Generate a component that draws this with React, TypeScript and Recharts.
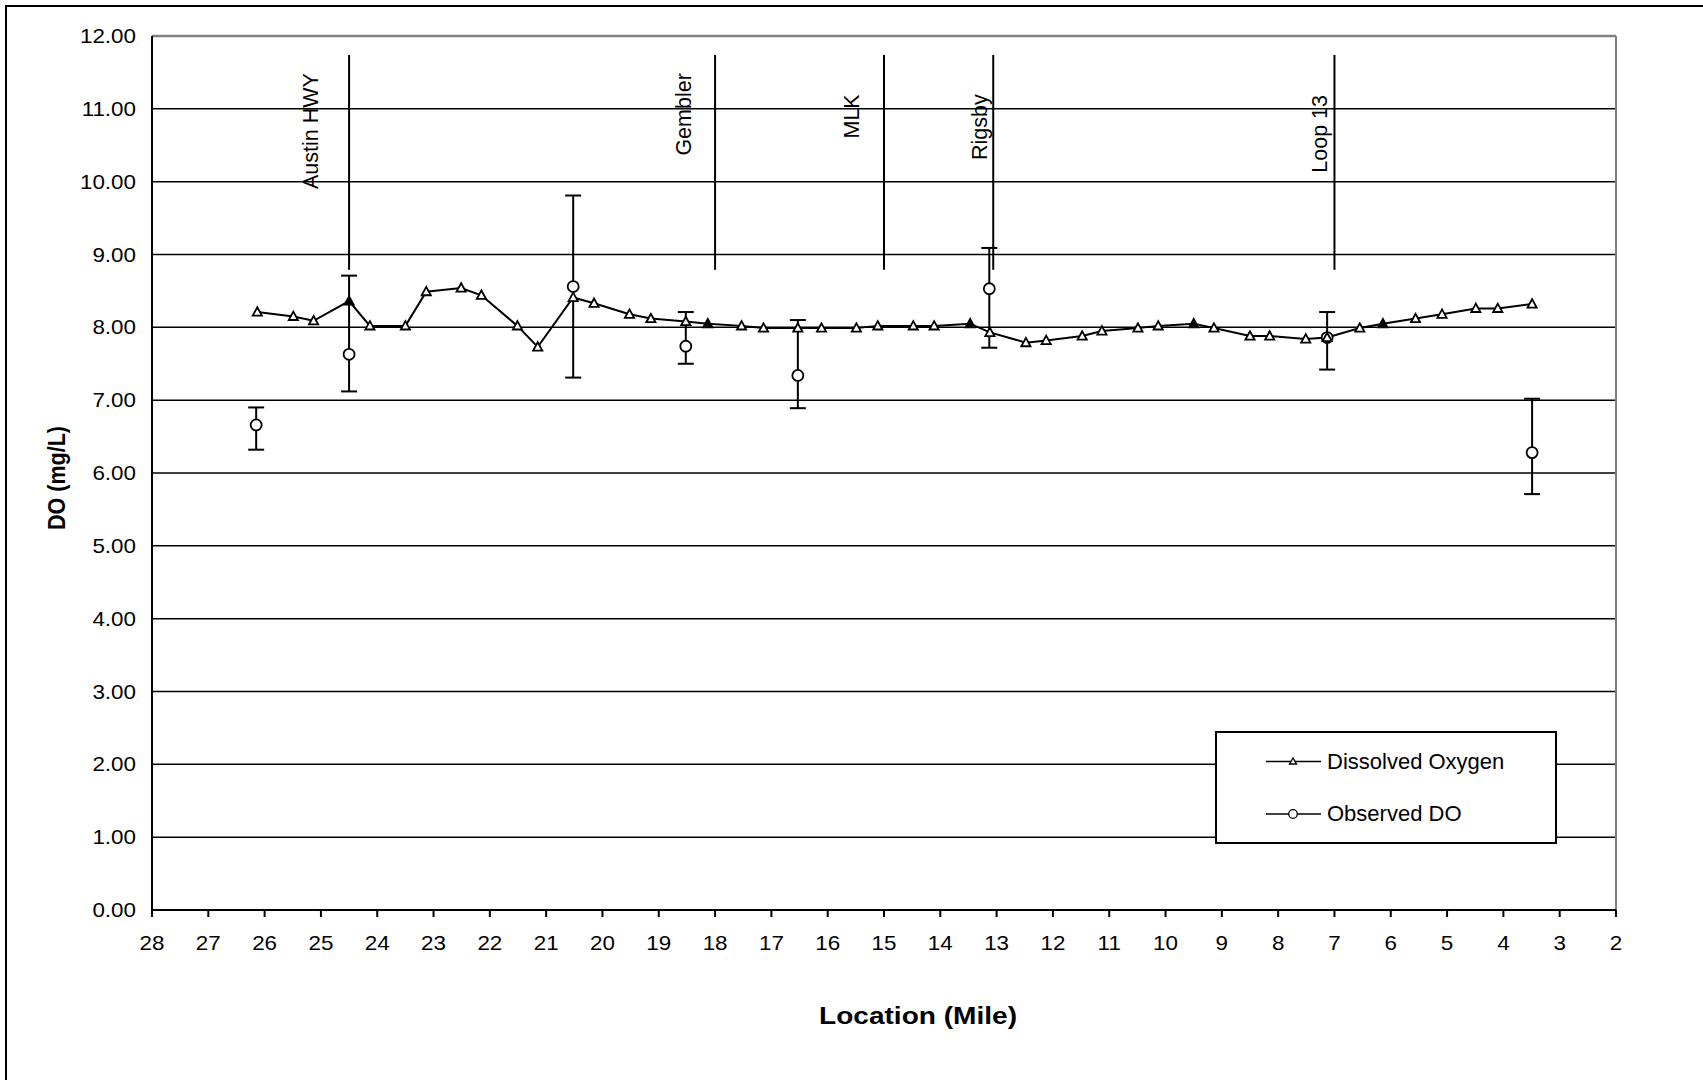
import React from 'react';
import {
  ComposedChart,
  Line,
  Scatter,
  XAxis,
  YAxis,
  CartesianGrid,
  ReferenceLine,
  ErrorBar,
  Legend,
} from 'recharts';

// ---- Data ----
const doMiles = [
  26.13, 25.49, 25.13, 24.5, 24.13, 23.5, 23.13, 22.51, 22.15, 21.51, 21.15, 20.52, 20.15,
  19.52, 19.14, 18.52, 18.13, 17.53, 17.14, 16.53, 16.11, 15.49, 15.11, 14.48, 14.11, 13.47,
  13.12, 12.48, 12.12, 11.48, 11.13, 10.49, 10.13, 9.5, 9.14, 8.5, 8.15, 7.51, 7.13, 6.55,
  6.14, 5.56, 5.09, 4.49, 4.1, 3.49,
];
const doValues = [
  8.21, 8.15, 8.09, 8.36, 8.02, 8.02, 8.49, 8.54, 8.44, 8.02, 7.73, 8.41, 8.33,
  8.18, 8.12, 8.08, 8.05, 8.02, 7.99, 7.99, 7.99, 7.99, 8.02, 8.02, 8.02, 8.05,
  7.93, 7.79, 7.82, 7.88, 7.95, 7.99, 8.02, 8.05, 7.99, 7.88, 7.88, 7.84, 7.86, 7.99,
  8.05, 8.12, 8.18, 8.26, 8.26, 8.32,
];
const doFilledMiles = [24.5, 18.13, 13.47, 9.5, 6.14];

const obsMiles = [26.15, 24.5, 20.52, 18.52, 16.53, 13.13, 7.13, 3.49];
const obsValues = [6.66, 7.63, 8.56, 7.74, 7.34, 8.53, 7.86, 6.28];
const obsLow = [6.32, 7.12, 7.31, 7.5, 6.89, 7.72, 7.42, 5.71];
const obsHigh = [6.9, 8.71, 9.81, 8.21, 8.1, 9.09, 8.21, 7.02];

const siteNames = ['Austin HWY', 'Gembler', 'MLK', 'Rigsby', 'Loop 13'];
const siteMiles = [24.5, 18.0, 15.0, 13.06, 7.0];
const siteLabelMiles = [25.17, 18.55, 15.57, 13.3, 7.25];
const siteLabelTops = [11.49, 11.49, 11.2, 11.2, 11.19];
const siteLineTop = 11.74;
const siteLineBottom = 8.79;

const xTicks = [28, 27, 26, 25, 24, 23, 22, 21, 20, 19, 18, 17, 16, 15, 14, 13, 12, 11, 10, 9, 8, 7, 6, 5, 4, 3, 2];
const yTicks = [0, 1, 2, 3, 4, 5, 6, 7, 8, 9, 10, 11, 12];

const FONT = '"Liberation Sans", Arial, sans-serif';

const doData = doMiles.map((m, i) => ({
  mile: m,
  do: doValues[i],
  filled: doFilledMiles.includes(m),
}));
const obsData = obsMiles.map((m, i) => ({
  mile: m,
  obs: obsValues[i],
  err: [obsValues[i] - obsLow[i], obsHigh[i] - obsValues[i]],
}));
const siteLabelData = siteNames.map((n, i) => ({
  mile: siteLabelMiles[i],
  top: siteLabelTops[i],
  name: n,
}));

// ---- Renderers ----
const TriDot = (props: any) => {
  const { cx, cy, payload, index } = props;
  if (cx == null || cy == null) return <g key={`t${index}`} />;
  const pts = `${cx},${cy - 4.8} ${cx - 4.6},${cy + 3.6} ${cx + 4.6},${cy + 3.6}`;
  return (
    <polygon
      key={`t${index}`}
      points={pts}
      fill={payload && payload.filled ? '#000' : '#fff'}
      stroke="#000"
      strokeWidth={1.8}
    />
  );
};

const CircleDot = (props: any) => {
  const { cx, cy } = props;
  return <circle cx={cx} cy={cy} r={5.5} fill="#fff" stroke="#000" strokeWidth={1.8} />;
};

const SiteLabel = (props: any) => {
  const { cx, cy, payload } = props;
  return (
    <text
      x={cx}
      y={cy}
      transform={`rotate(-90, ${cx}, ${cy})`}
      textAnchor="end"
      dominantBaseline="central"
      fontSize={21.5}
      fontFamily={FONT}
      fill="#000"
    >
      {payload.name}
    </text>
  );
};

const XTick = (props: any) => {
  const { x, y, payload } = props;
  return (
    <g transform={`translate(${x},${y + 24})`}>
      <text
        x={0}
        y={0}
        transform="scale(1.12,1)"
        textAnchor="middle"
        dominantBaseline="central"
        fontSize={20}
        fontFamily={FONT}
        fill="#000"
      >
        {payload.value}
      </text>
    </g>
  );
};

const YTick = (props: any) => {
  const { y, payload } = props;
  return (
    <g transform={`translate(136,${y})`}>
      <text
        x={0}
        y={0}
        transform="scale(1.12,1)"
        textAnchor="end"
        dominantBaseline="central"
        fontSize={20}
        fontFamily={FONT}
        fill="#000"
      >
        {Number(payload.value).toFixed(2)}
      </text>
    </g>
  );
};

const XTitle = (props: any) => {
  const vb = props.viewBox || { x: 152, y: 910, width: 1464, height: 170 };
  const cx = vb.x + vb.width / 2 + 34;
  const cy = vb.y + 105;
  return (
    <text
      x={cx}
      y={cy}
      textAnchor="middle"
      dominantBaseline="central"
      fontSize={24}
      fontWeight="bold"
      fontFamily={FONT}
      fill="#000"
      textLength={198}
      lengthAdjust="spacingAndGlyphs"
    >
      Location (Mile)
    </text>
  );
};

const YTitle = (props: any) => {
  const vb = props.viewBox || { x: 0, y: 36, width: 152, height: 874 };
  const cx = vb.x + 57;
  const cy = vb.y + vb.height / 2 + 5;
  return (
    <text
      x={cx}
      y={cy}
      transform={`rotate(-90, ${cx}, ${cy})`}
      textAnchor="middle"
      dominantBaseline="central"
      fontSize={23}
      fontWeight="bold"
      fontFamily={FONT}
      fill="#000"
      textLength={104}
      lengthAdjust="spacingAndGlyphs"
    >
      DO (mg/L)
    </text>
  );
};

const LegendBox = () => (
  <svg width={342} height={114} style={{ display: 'block' }}>
    <rect x={1} y={1} width={340} height={111} fill="#fff" stroke="#000" strokeWidth={2} />
    <line x1={51} x2={106} y1={30.5} y2={30.5} stroke="#000" strokeWidth={1.5} />
    <polygon points="78,27 74.5,33 81.5,33" fill="#fff" stroke="#000" strokeWidth={1.3} />
    <text x={112} y={30} dominantBaseline="central" fontSize={22} fontFamily={FONT} fill="#000">
      Dissolved Oxygen
    </text>
    <line x1={51} x2={106} y1={83} y2={83} stroke="#000" strokeWidth={1.5} />
    <circle cx={78} cy={83} r={4.3} fill="#fff" stroke="#000" strokeWidth={1.3} />
    <text x={112} y={82.5} dominantBaseline="central" fontSize={22} fontFamily={FONT} fill="#000">
      Observed DO
    </text>
  </svg>
);

export default function App() {
  return (
    <div
      style={{
        position: 'absolute',
        left: 0,
        top: 0,
        width: 1703,
        height: 1080,
        overflow: 'hidden',
        background: '#fff',
      }}
    >
      <div
        style={{
          position: 'absolute',
          left: 5,
          top: 5,
          width: 1800,
          height: 1200,
          border: '2px solid #000',
        }}
      />
      <div style={{ position: 'absolute', left: 0, top: 0 }}>
        <ComposedChart
          width={1703}
          height={1080}
          margin={{ top: 36, right: 87, bottom: 0, left: 0 }}
        >
          <CartesianGrid vertical={false} stroke="#000" strokeWidth={1.5} />
          <XAxis
            type="number"
            dataKey="mile"
            domain={[2, 28]}
            reversed
            allowDataOverflow
            ticks={xTicks}
            interval={0}
            height={170}
            tickSize={7}
            tickMargin={2}
            axisLine={{ stroke: '#000', strokeWidth: 2 }}
            tickLine={{ stroke: '#000', strokeWidth: 2 }}
            tick={<XTick />}
            label={<XTitle />}
          />
          <YAxis
            type="number"
            domain={[0, 12]}
            allowDataOverflow
            ticks={yTicks}
            interval={0}
            width={152}
            tickLine={false}
            axisLine={{ stroke: '#000', strokeWidth: 2 }}
            tick={<YTick />}
            label={<YTitle />}
          />
          <ReferenceLine y={12} stroke="#808080" strokeWidth={2.5} />
          <ReferenceLine x={2} stroke="#808080" strokeWidth={2} />
          {siteMiles.map((m, i) => (
            <ReferenceLine
              key={siteNames[i]}
              segment={[
                { x: m, y: siteLineBottom },
                { x: m, y: siteLineTop },
              ]}
              stroke="#000"
              strokeWidth={2}
            />
          ))}
          <Scatter
            data={siteLabelData}
            dataKey="top"
            shape={<SiteLabel />}
            isAnimationActive={false}
            legendType="none"
          />
          <Line
            data={doData}
            dataKey="do"
            name="Dissolved Oxygen"
            stroke="#000"
            strokeWidth={2}
            dot={TriDot}
            activeDot={false}
            isAnimationActive={false}
          />
          <Scatter
            data={obsData}
            dataKey="obs"
            name="Observed DO"
            shape={<CircleDot />}
            isAnimationActive={false}
          >
            <ErrorBar dataKey="err" direction="y" width={8} stroke="#000" strokeWidth={2} />
          </Scatter>
          <Legend
            content={<LegendBox />}
            layout="horizontal"
            verticalAlign="middle"
            align="center"
            wrapperStyle={{ left: 1215, top: 731, width: 342, height: 114 }}
          />
        </ComposedChart>
      </div>
    </div>
  );
}
